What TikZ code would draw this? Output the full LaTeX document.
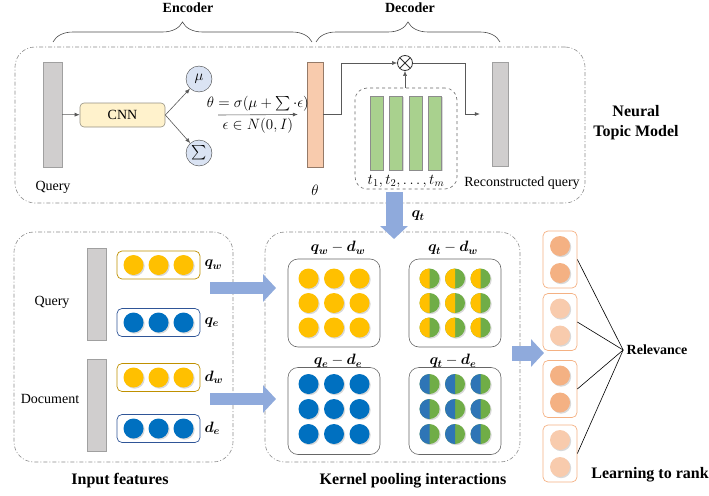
\documentclass[tikz,border=0pt]{standalone}
\usepackage{fix-cm}
\usepackage{fontspec}
\setmainfont{Liberation Serif}
\usepackage{amsmath,bm}
\usetikzlibrary{arrows.meta,shadows,decorations.pathreplacing}

% Couleurs
\definecolor{grisbarre}{HTML}{D0CECE}
\definecolor{bordbarre}{HTML}{A0A0A0}
\definecolor{jauneclair}{HTML}{FFF2CC}
\definecolor{bleuclair}{HTML}{DAE3F3}
\definecolor{saumon}{HTML}{F8CBAD}
\definecolor{orangemoyen}{HTML}{F4B183}
\definecolor{vertclair}{HTML}{A9D18E}
\definecolor{jaune}{HTML}{FFC000}
\definecolor{bleu}{HTML}{0070C0}
\definecolor{bleudemi}{HTML}{2E75B6}
\definecolor{vert}{HTML}{70AD47}
\definecolor{dore}{HTML}{BF9000}
\definecolor{bleufonce}{HTML}{2F5597}
\definecolor{grossefleche}{HTML}{8FAADC}

\tikzset{
  cadre/.style={draw=gray!90, line width=0.6pt, dash pattern=on 4pt off 2pt on 1pt off 2pt, rounded corners=20pt},
  pointille/.style={draw=gray!80!black, line width=0.6pt, dashed, rounded corners=12pt},
  barre/.style={rectangle, draw=bordbarre, fill=grisbarre, inner sep=0pt, minimum width=19pt, minimum height=105pt},
  rond/.style={circle, inner sep=0pt, outer sep=0pt, minimum size=20pt,
    drop shadow={shadow xshift=1.2pt, shadow yshift=-1.2pt, opacity=.3}},
  gauss/.style={circle, draw=black!75, fill=bleuclair, inner sep=0pt, minimum size=26pt},
  lien/.style={draw=black!65, line width=0.6pt, -{Latex[length=5pt,width=4pt]}},
  grosse/.style={draw=grossefleche, line width=#1, -{Triangle[length=13pt,width=27pt]}},
  vecteur/.style={rectangle, rounded corners=5pt, line width=0.7pt, minimum width=83pt, minimum height=28pt},
  panneau/.style={rectangle, draw=black!60, line width=0.6pt, rounded corners=10pt, minimum width=92pt, minimum height=88pt},
  rang/.style={rectangle, draw=orangemoyen, line width=0.7pt, rounded corners=5pt, minimum width=34pt, minimum height=57pt},
  titre/.style={font=\fontsize{16}{20}\selectfont\bfseries, align=center},
  soustitre/.style={font=\fontsize{14}{16}\selectfont\bfseries},
  maths/.style={font=\fontsize{15}{17}\selectfont}
}

\begin{document}
\begin{tikzpicture}[x=1pt, y=-1pt, font=\fontsize{14}{16}\selectfont]

  \useasboundingbox (0,0) rectangle (709,495);

  % Accolades encodeur / décodeur
  \draw[decorate, decoration={brace, amplitude=20pt}, black!70, line width=0.6pt] (53,42) -- (312,42);
  \draw[decorate, decoration={brace, amplitude=20pt}, black!70, line width=0.6pt] (316,42) -- (500,42);
  \node[soustitre] (enc) at (188,8) {Encoder};
  \node[soustitre] (dec) at (410,8) {Decoder};

  % Modèle de thèmes
  \node[cadre, minimum width=570pt, minimum height=156pt] (ntm) at (300,125) {};
  \node[titre] (ntmlab) at (636,123) {Neural\\Topic Model};

  \node[barre] (q0) at (52.5,114.5) {};
  \node (q0lab) at (53,187) {Query};
  \node[draw=black!35!jauneclair!60!gray, fill=jauneclair, rounded corners=4pt, line width=0.6pt,
        minimum width=85pt, minimum height=24pt] (cnn) at (122.5,115) {CNN};
  \node[gauss, maths] (mu) at (199,79) {$\mu$};
  \node[gauss, maths] (sig) at (199,153) {$\sum$};

  \draw[lien] (q0) -- (cnn);
  \draw[lien] (cnn.east) -- (mu);
  \draw[lien] (cnn.east) -- (sig);

  \node[barre, fill=saumon, draw=saumon!60!black, minimum width=16pt] (theta) at (315,114.5) {};
  \node[maths] (thlab) at (315,190) {$\theta$};
  \coordinate (dep) at (218,115);
  \draw[lien] (dep) -- ([xshift=-9pt]theta.west)
    node[midway, above, maths] {$\theta = \sigma(\mu + \textstyle\sum\cdot\epsilon)$}
    node[midway, below, maths] {$\epsilon \in N(0,I)$};

  % Produit et thèmes
  \node[circle, draw=black!80, line width=0.8pt, minimum size=15pt, inner sep=0pt,
        path picture={\draw[line width=0.8pt]
          (path picture bounding box.north west) -- (path picture bounding box.south east)
          (path picture bounding box.south west) -- (path picture bounding box.north east);}]
        (prod) at (405,63) {};

  \node[pointille, minimum width=102pt, minimum height=101pt] (topics) at (406,138.5) {};
  \foreach \i in {0,...,3}
    \node[barre, fill=vertclair, draw=black!45, minimum width=13pt, minimum height=74pt,
          drop shadow={shadow xshift=1.2pt, shadow yshift=-1.2pt, opacity=.3}] (t\i) at (376.5+19.5*\i,133) {};
  \node[maths] (tlab) at (406,181) {$t_1, t_2, \dots, t_m$};

  \node[barre, minimum width=16pt, minimum height=104pt] (recon) at (500,114) {};
  \node (reclab) at (522,183) {Reconstructed query};

  \draw[lien] (theta.east) -- ++(18,0) |- (prod.west);
  \draw[lien] (topics.north -| prod) -- (prod.south);
  \draw[lien] (prod.east) -| ([xshift=-27pt]recon.west) -- ([xshift=-12pt]recon.west);

  % Entrées
  \node[cadre, minimum width=219pt, minimum height=230pt] (entree) at (123.5,347) {};
  \node[titre] (entlab) at (120,481) {Input features};

  \node[barre, minimum height=92pt] (q1) at (96.5,294) {};
  \node (q1lab) at (52,302) {Query};
  \node[barre, minimum height=92pt] (d1) at (96.5,405) {};
  \node (d1lab) at (50,399) {Document};

  \foreach \nom/\y/\coul/\bord/\lab in {qw/265/jaune/dore/{\bm{q}_{\bm{w}}},
      qe/322.5/bleu/bleufonce/{\bm{q}_{\bm{e}}},
      dw/377.5/jaune/dore/{\bm{d}_{\bm{w}}},
      de/428.5/bleu/bleufonce/{\bm{d}_{\bm{e}}}} {
    \node[vecteur, draw=\bord] (\nom) at (158.5,\y) {};
    \foreach \k in {-1,0,1}
      \node[rond, fill=\coul] (\nom\k) at ([xshift=\k*25pt]\nom) {};
    \node[anchor=west, inner sep=1pt, maths] (\nom lab) at ([xshift=3pt]\nom.east) {$\lab$};
  }

  % Interactions
  \node[cadre, minimum width=255pt, minimum height=230pt] (noyau) at (392.5,347) {};
  \node[titre] (noylab) at (413,481) {Kernel pooling interactions};

  \node[panneau] (p1) at (334,303) {};
  \node[panneau] (p2) at (455,303) {};
  \node[panneau, minimum height=87pt] (p3) at (334,411) {};
  \node[panneau, minimum height=87pt] (p4) at (455,411) {};
  \node[maths] (p1lab) at (338,248) {$\bm{q}_{\bm{w}} - \bm{d}_{\bm{w}}$};
  \node[maths] (p2lab) at (453,248) {$\bm{q}_{\bm{t}} - \bm{d}_{\bm{w}}$};
  \node[maths] (p3lab) at (338,361) {$\bm{q}_{\bm{e}} - \bm{d}_{\bm{e}}$};
  \node[maths] (p4lab) at (453,361) {$\bm{q}_{\bm{t}} - \bm{d}_{\bm{e}}$};

  \foreach \i in {-1,0,1}
    \foreach \j in {-1,0,1} {
      \node[rond, fill=jaune] (a\i\j) at ([shift={(\i*25.5,\j*24.5)}]p1) {};
      \node[rond, fill=bleu] (c\i\j) at ([shift={(\i*25.5,\j*25-2)}]p3) {};
      \node[rond, fill=vert] (b\i\j) at ([shift={(\i*25.5,\j*24.5)}]p2) {};
      \fill[jaune] (b\i\j.north) arc[start angle=90, end angle=270, radius=10pt] -- cycle;
      \node[rond, fill=vert] (e\i\j) at ([shift={(\i*25.5,\j*25-2)}]p4) {};
      \fill[bleudemi] (e\i\j.north) arc[start angle=90, end angle=270, radius=10pt] -- cycle;
    }

  % Grosses flèches
  \coordinate (f1a) at (210,288);
  \coordinate (f1b) at (276,288);
  \coordinate (f2a) at (210,399);
  \coordinate (f2b) at (276,399);
  \coordinate (f3a) at (394,192);
  \coordinate (f3b) at (394,239);
  \coordinate (f4a) at (512,353);
  \coordinate (f4b) at (544,353);
  \draw[grosse=12pt] (f1a) -- (f1b);
  \draw[grosse=12pt] (f2a) -- (f2b);
  \draw[grosse=17pt] (f3a) -- (f3b);
  \draw[grosse=15pt] (f4a) -- (f4b);
  \node[maths] (qtlab) at (418,216) {$\bm{q}_{\bm{t}}$};

  % Classement
  \node[soustitre] (rel) at (657,350) {Relevance};
  \node[titre] (ltr) at (650,475) {Learning to rank};
  \foreach \k/\y/\coul in {1/259.5/orangemoyen, 2/322/saumon, 3/389/orangemoyen, 4/453.5/saumon} {
    \node[rang] (r\k) at (560,\y) {};
    \node[rond, fill=\coul] (r\k h) at ([yshift=13.5pt]r\k) {};
    \node[rond, fill=\coul] (r\k b) at ([yshift=-13.5pt]r\k) {};
    \draw[line width=0.6pt] (r\k.east) -- (rel.west);
  }

\end{tikzpicture}
\end{document}
